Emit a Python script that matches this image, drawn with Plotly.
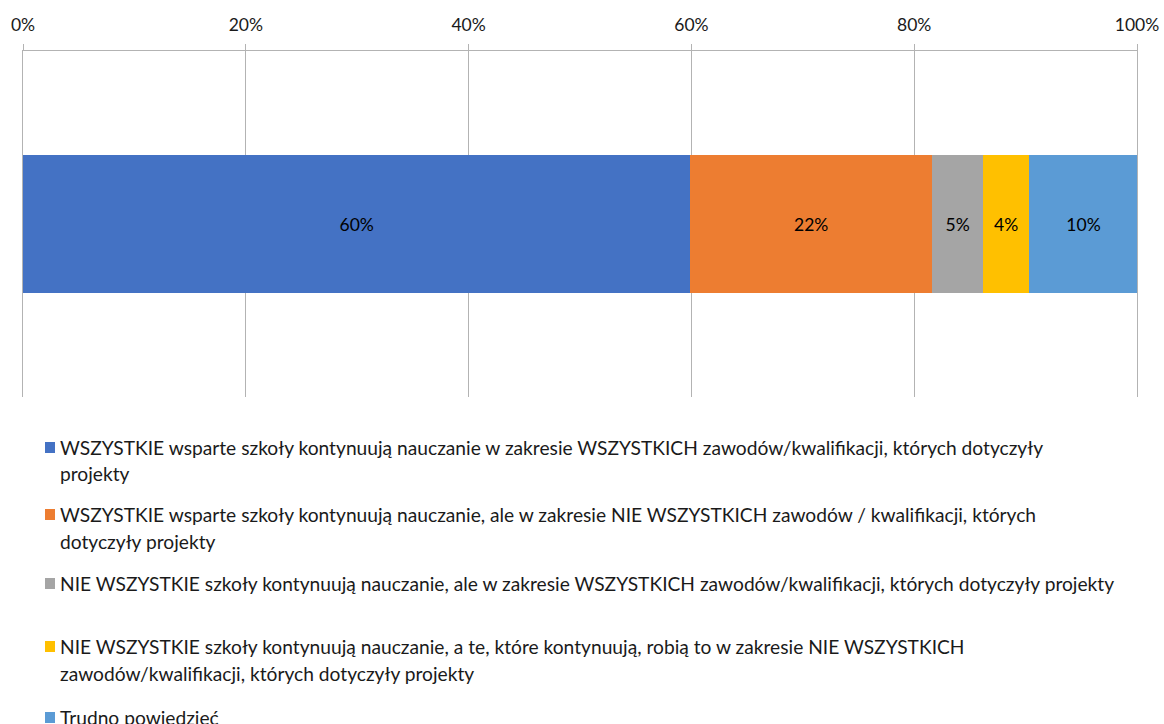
import plotly.graph_objects as go

# Share of responses (percent) for each answer category
categories = [
    "WSZYSTKIE wsparte szkoły kontynuują nauczanie w zakresie WSZYSTKICH zawodów/kwalifikacji, których dotyczyły\nprojekty",
    "WSZYSTKIE wsparte szkoły kontynuują nauczanie, ale w zakresie NIE WSZYSTKICH zawodów / kwalifikacji, których\ndotyczyły projekty",
    "NIE WSZYSTKIE szkoły kontynuują nauczanie, ale w zakresie WSZYSTKICH zawodów/kwalifikacji, których dotyczyły projekty",
    "NIE WSZYSTKIE szkoły kontynuują nauczanie, a te, które kontynuują, robią to w zakresie NIE WSZYSTKICH\nzawodów/kwalifikacji, których dotyczyły projekty",
    "Trudno powiedzieć",
]
values = [59.9, 21.7, 4.6, 4.1, 9.8]
colors = ["#4472C4", "#ED7D31", "#A5A5A5", "#FFC000", "#5B9BD5"]
tick_values = [0, 20, 40, 60, 80, 100]
tick_labels = ["0%", "20%", "40%", "60%", "80%", "100%"]

FONT = "Lato"
TEXT = "#1a1a1a"
GRID = "#B3B3B3"

# Plot-area geometry in pixels (used to place the custom legend)
X0, X1, Y0, Y1 = 23, 1137, 51, 397
PW, PH = X1 - X0, Y1 - Y0

fig = go.Figure()
for name, val, col in zip(categories, values, colors):
    fig.add_trace(go.Bar(
        x=[val], y=[""], orientation="h", name=name.replace("\n", " "),
        marker=dict(color=col, line=dict(width=0)),
        texttemplate="%{x:.0f}%", textposition="inside",
        insidetextanchor="middle", textangle=0,
        textfont=dict(family=FONT, size=17.5, color="#000000"),
        showlegend=False, hoverinfo="skip",
    ))

# Legend drawn below the plot: colour square plus wrapped label lines
legend_tops = [447, 514, 583, 646, 717]
line_step = 27
shapes = []
annotations = []
for name, col, ytop in zip(categories, colors, legend_tops):
    shapes.append(dict(type="rect", xref="paper", yref="paper",
                       x0=(45 - X0) / PW, x1=(55 - X0) / PW,
                       y0=(Y1 - (ytop + 6)) / PH, y1=(Y1 - (ytop - 5)) / PH,
                       fillcolor=col, line=dict(width=0)))
    for i, line in enumerate(name.split("\n")):
        yc = ytop + i * line_step
        annotations.append(dict(
            text=line, xref="paper", yref="paper",
            x=(58 - X0) / PW, y=(Y1 - yc) / PH,
            xanchor="left", yanchor="middle", showarrow=False,
            font=dict(family=FONT, size=19.2, color=TEXT),
        ))

fig.update_layout(
    barmode="stack",
    bargap=0.6,
    width=1164, height=724,
    margin=dict(l=X0, r=1164 - X1, t=Y0, b=724 - Y1, autoexpand=False),
    paper_bgcolor="white", plot_bgcolor="white",
    font=dict(family=FONT, size=17.5, color=TEXT),
    shapes=shapes,
    annotations=annotations,
    xaxis=dict(
        side="top", range=[0, 100], tickvals=tick_values, ticktext=tick_labels,
        showgrid=True, gridcolor=GRID, gridwidth=1,
        showline=True, linecolor=GRID, linewidth=1,
        ticks="outside", ticklen=6, tickcolor=GRID,
        tickfont=dict(family=FONT, size=17.5, color=TEXT),
        zeroline=False, fixedrange=True, ticklabelstandoff=6,
        automargin=False,
    ),
    yaxis=dict(showticklabels=False, showgrid=False, zeroline=False,
               showline=True, mirror=True, linecolor=GRID, linewidth=1,
               ticks="", fixedrange=True, automargin=False),
)

fig.write_html("out.html")
